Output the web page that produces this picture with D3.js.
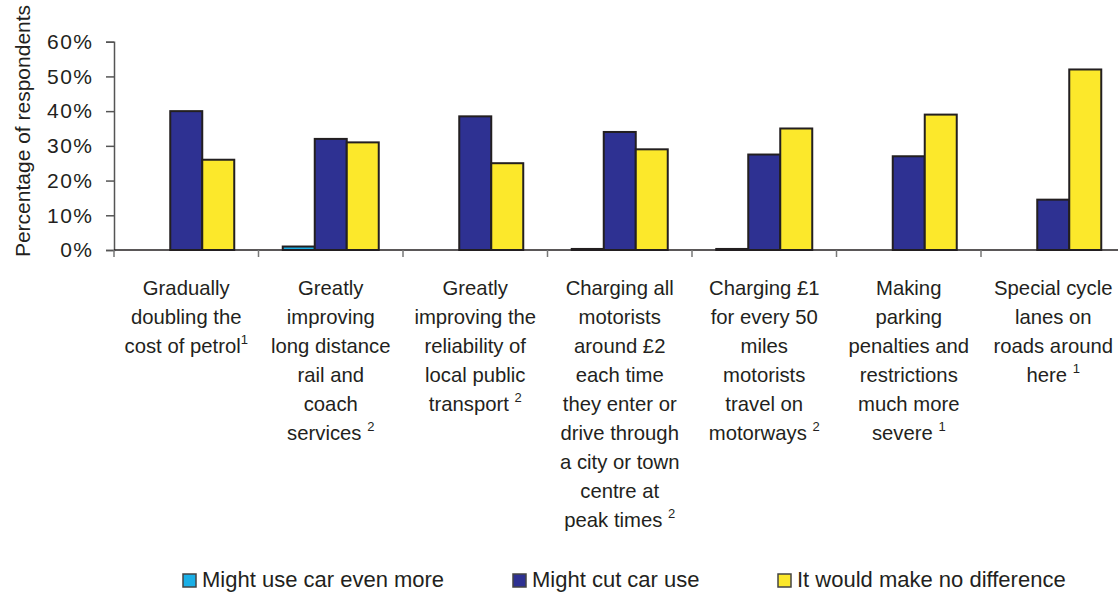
<!DOCTYPE html>
<html><head><meta charset="utf-8">
<script src="https://cdn.jsdelivr.net/npm/d3@7"></script>
<style>body{margin:0;background:#fff}svg{display:block;font-family:"Liberation Sans",Arial,sans-serif}</style>
</head><body><svg id="c" width="1118" height="593"></svg>
<script>
const categories = [
  ["Gradually","doubling the","cost of petrol|1"],
  ["Greatly","improving","long distance","rail and","coach","services |2"],
  ["Greatly","improving the","reliability of","local public","transport |2"],
  ["Charging all","motorists","around £2","each time","they enter or","drive through","a city or town","centre at","peak times |2"],
  ["Charging £1","for every 50","miles","motorists","travel on","motorways |2"],
  ["Making","parking","penalties and","restrictions","much more","severe |1"],
  ["Special cycle","lanes on","roads around","here |1"]
];
const seriesNames = ["Might use car even more","Might cut car use","It would make no difference"];
const useMore = [0, 1, 0, 0.3, 0.3, 0, 0];
const cutUse = [40, 32, 38.5, 34, 27.5, 27, 14.5];
const noDiff = [26, 31, 25, 29, 35, 39, 52];
const yTicks = [0,10,20,30,40,50,60];
const colors = ["#1aafe6","#2e3192","#fce82b"];

const svg = d3.select("#c");
const x0 = d3.scaleBand().domain(d3.range(categories.length)).range([114, 1125.5]).padding(0);
const y = d3.scaleLinear().domain([0,60]).range([250, 41.7]);
const barW = 32;
const x1 = d3.scaleBand().domain([0,1,2]).range([-barW*1.5, barW*1.5]);
const series = [useMore, cutUse, noDiff];

// y axis
const yAxis = svg.append("g").attr("transform","translate(114,0)")
  .call(d3.axisLeft(y).tickValues(yTicks).tickFormat(d=>d+"%").tickSize(8).tickPadding(12.5));
yAxis.select(".domain").attr("stroke","#555").attr("stroke-width",1.5);
yAxis.selectAll(".tick line").attr("stroke","#555").attr("stroke-width",1.5);
yAxis.selectAll(".tick text").attr("font-size",21).attr("letter-spacing",1.5).attr("fill","#231f20")
  .attr("font-family","Liberation Sans, Arial, sans-serif");

svg.append("text").attr("transform","translate(30,131) rotate(-90)")
  .attr("text-anchor","middle").attr("font-size",21).attr("fill","#231f20").text("Percentage of respondents");

// bars
categories.forEach((c,i)=>{
  const cx = x0(i) + x0.bandwidth()/2;
  series.forEach((s,j)=>{
    const v = s[i];
    if(v<=0) return;
    svg.append("rect").attr("x", cx + x1(j)).attr("width", x1.bandwidth())
      .attr("y", y(v)).attr("height", y(0)-y(v))
      .attr("fill", colors[j]).attr("stroke","#231f20").attr("stroke-width",2);
  });
});

// x axis
svg.append("line").attr("x1",114).attr("x2",1118).attr("y1",250).attr("y2",250)
  .attr("stroke","#231f20").attr("stroke-width",1.5);
d3.range(categories.length+1).forEach(i=>{
  const xx = i<categories.length ? x0(i) : 1125.5;
  if(xx>1118) return;
  svg.append("line").attr("x1",xx).attr("x2",xx).attr("y1",250).attr("y2",257)
    .attr("stroke","#777").attr("stroke-width",1.5);
});

// category labels
categories.forEach((lines,i)=>{
  const cx = x0(i) + x0.bandwidth()/2;
  const t = svg.append("text").attr("text-anchor","middle").attr("font-size",20.3).attr("fill","#231f20");
  lines.forEach((ln,k)=>{
    const parts = ln.split("|");
    t.append("tspan").attr("x",cx).attr("y",294.5 + k*29).text(parts[0]);
    if(parts.length>1){
      t.append("tspan").attr("dy",-9).attr("font-size",13).text(parts[1]);
    }
  });
});

// legend
const legX = [183, 513, 778];
seriesNames.forEach((n,j)=>{
  svg.append("rect").attr("x",legX[j]).attr("y",574).attr("width",13).attr("height",13)
    .attr("fill",colors[j]).attr("stroke","#444").attr("stroke-width",1.5);
  svg.append("text").attr("x",legX[j]+19).attr("y",587).attr("font-size",22).attr("fill","#231f20").text(n);
});
</script></body></html>
